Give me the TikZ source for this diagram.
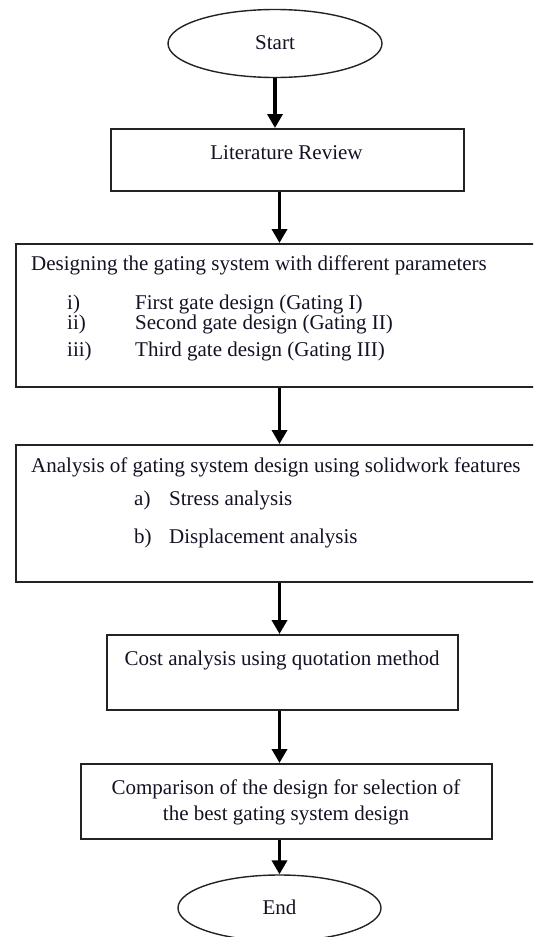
\documentclass[tikz,border=0pt]{standalone}
\usepackage{fontspec}
\setmainfont{Liberation Serif}
\usetikzlibrary{shapes.geometric,arrows.meta}
\definecolor{txt}{RGB}{18,18,36}
\definecolor{edge}{RGB}{35,35,35}
\begin{document}
\begin{tikzpicture}[x=1pt,y=-1pt,
  box/.style={draw=edge,line width=1.6pt,rectangle,inner sep=0pt,anchor=north west},
  oval/.style={draw=edge,line width=1.4pt,ellipse,inner sep=0pt},
  lbl/.style={text=txt,font=\fontsize{21}{26}\selectfont,inner sep=0pt},
  arr/.style={line width=3.5pt,-{Triangle[width=15pt,length=14pt]}}]
\useasboundingbox (0,0) rectangle (533,937);
\clip (0,0) rectangle (533,937);

% shapes
\node[oval,minimum width=214pt,minimum height=68pt] (start) at (275,43.5) {};
\node[box,minimum width=353pt,minimum height=62pt] (lit) at (110,128) {};
\node[box,minimum width=535pt,minimum height=143pt] (des) at (15,243) {};
\node[box,minimum width=535pt,minimum height=137pt] (ana) at (15,444) {};
\node[box,minimum width=351pt,minimum height=75pt] (cost) at (106,634) {};
\node[box,minimum width=411pt,minimum height=75pt] (comp) at (80,763) {};
\node[oval,minimum width=203pt,minimum height=66pt] (end) at (279.5,908) {};

% texts
\node[lbl,anchor=base] (starttxt) at (275,49.5) {Start};
\node[lbl,anchor=base] (littxt) at (286.5,159.5) {Literature Review};
\node[lbl,anchor=base west] (destitle) at (31,270) {Designing the gating system with different parameters};
\node[lbl,anchor=base west] (d1n) at (67,309) {i)};
\node[lbl,anchor=base west] (d1t) at (135,309) {First gate design (Gating I)};
\node[lbl,anchor=base west] (d2n) at (67,329) {ii)};
\node[lbl,anchor=base west] (d2t) at (135,329) {Second gate design (Gating II)};
\node[lbl,anchor=base west] (d3n) at (67,356) {iii)};
\node[lbl,anchor=base west] (d3t) at (135,356) {Third gate design (Gating III)};
\node[lbl,anchor=base west] (anatitle) at (31,472) {Analysis of gating system design using solidwork features};
\node[lbl,anchor=base west] (a1n) at (134,505) {a)};
\node[lbl,anchor=base west] (a1t) at (169,505) {Stress analysis};
\node[lbl,anchor=base west] (a2n) at (134,543) {b)};
\node[lbl,anchor=base west] (a2t) at (169,543) {Displacement analysis};
\node[lbl,anchor=base] (costtxt) at (282,665) {Cost analysis using quotation method};
\node[lbl,anchor=base] (comp1) at (286,794) {Comparison of the design for selection of};
\node[lbl,anchor=base] (comp2) at (286,820) {the best gating system design};
\node[lbl,anchor=base] (endtxt) at (279.5,914) {End};

% connectors
\draw[arr] (start.south) -- (start.south |- lit.north);
\draw[arr] (lit.south -| end) -- (des.north -| end);
\draw[arr] (des.south -| end) -- (ana.north -| end);
\draw[arr] (ana.south -| end) -- (cost.north -| end);
\draw[arr] (cost.south -| end) -- (comp.north -| end);
\draw[arr] (comp.south -| end) -- (end.north);
\end{tikzpicture}
\end{document}
